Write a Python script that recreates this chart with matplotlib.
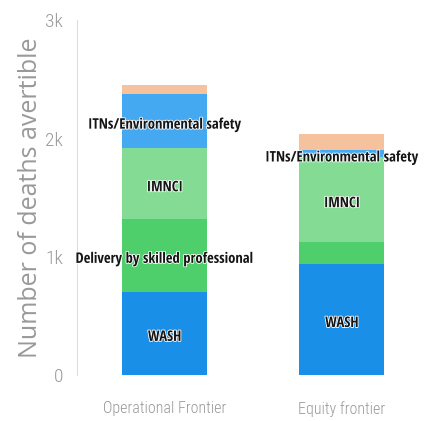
import matplotlib
matplotlib.use("Agg")
import matplotlib.pyplot as plt
import matplotlib.patheffects as pe
import numpy as np

categories = ["Operational Frontier", "Equity frontier"]
segments = ["WASH", "Delivery by skilled professional", "IMNCI",
            "ITNs/Environmental safety", "Other"]
values = {
    "WASH": [706, 941],
    "Delivery by skilled professional": [613, 185],
    "IMNCI": [597, 714],
    "ITNs/Environmental safety": [462, 59],
    "Other": [76, 135],
}
# which segments get a text label in each bar
shown = {
    "WASH": [True, True],
    "Delivery by skilled professional": [True, False],
    "IMNCI": [True, True],
    "ITNs/Environmental safety": [True, True],
    "Other": [False, False],
}
colors = {
    "WASH": "#1a8fe8",
    "Delivery by skilled professional": "#4fce6c",
    "IMNCI": "#84dc94",
    "ITNs/Environmental safety": "#44a9f1",
    "Other": "#f6c29e",
}
yticks = [0, 1000, 2000, 3000]
yticklabels = ["0", "1k", "2k", "3k"]

label_font = ["Open Sans Condensed", "Liberation Sans", "DejaVu Sans"]
tick_font = ["Roboto Condensed", "Liberation Sans", "DejaVu Sans"]
axis_font = ["Open Sans", "DejaVu Sans"]

fig = plt.figure(figsize=(4.36, 4.21), dpi=100)
ax = fig.add_axes([0.177, 0.109, 0.808, 0.843])

x = np.arange(len(categories))
bottom = np.zeros(len(categories))
for seg in segments:
    vals = np.array(values[seg], dtype=float)
    ax.bar(x, vals, width=0.48, bottom=bottom, color=colors[seg], linewidth=0)
    for i, v in enumerate(vals):
        if shown[seg][i]:
            ax.text(x[i], bottom[i] + v / 2 - 30, seg, ha="center", va="center",
                    fontsize=10.5, fontweight="bold", family=label_font, color="#151515",
                    path_effects=[pe.withStroke(linewidth=1.2, foreground="white")])
    bottom += vals

ax.set_xlim(-0.494, 1.494)
ax.set_ylim(0, 3000)
ax.set_yticks(yticks)
ax.set_yticklabels(yticklabels, family=tick_font, fontweight="light", fontsize=14, color="#999999")
ax.set_xticks(x)
ax.set_xticklabels(categories, family=tick_font, fontweight="light", fontsize=11.5, color="#999999")
ax.tick_params(length=0, pad=10)
ax.tick_params(axis="x", pad=19)
for s in ["top", "right", "bottom"]:
    ax.spines[s].set_visible(False)
ax.spines["left"].set_color("#dddddd")
ax.set_ylabel("Number of deaths avertible", family=axis_font, fontsize=18,
              color="#999999", labelpad=2)

fig.savefig("out.png", dpi=100)
